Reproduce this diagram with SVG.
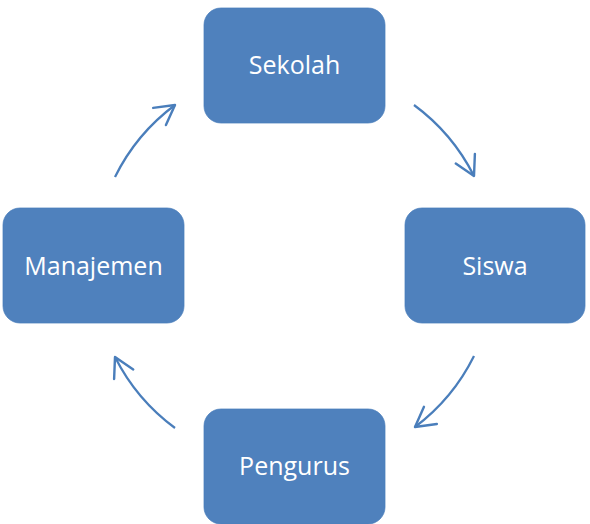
<svg xmlns="http://www.w3.org/2000/svg" width="590" height="524" viewBox="0 0 590 524">
<style>
.box{fill:#4F81BD;stroke:#4A7EBB;stroke-width:0.75}
.lbl{fill:#FFFFFF;font-family:"Open Sans","Noto Sans","Liberation Sans",sans-serif;font-size:25px;text-anchor:middle}
.arc{fill:none;stroke:#4A7EBB;stroke-width:2.25;marker-end:url(#arr)}
</style>
<defs>
<marker id="arr" markerUnits="userSpaceOnUse" markerWidth="30" markerHeight="30" viewBox="-22 -14 26 28" refX="0" refY="0" orient="auto" overflow="visible">
<path d="M -18 -10 L 0 0 L -18 10" fill="none" stroke="#4A7EBB" stroke-width="2.25" stroke-linecap="round" stroke-linejoin="round"/>
</marker>
</defs>
<rect width="590" height="524" fill="#FFFFFF"/>
<g id="connectors">
<path class="arc" d="M 414 105 A 200 200 0 0 1 474 176"/>
<path class="arc" d="M 474 356 A 200 200 0 0 1 415 427"/>
<path class="arc" d="M 175 428 A 200 200 0 0 1 115 357"/>
<path class="arc" d="M 115 177 A 200 200 0 0 1 175 105"/>
</g>
<g id="sekolah">
<rect class="box" x="204" y="8" width="181" height="115" rx="17"/>
<text class="lbl" x="294.5" y="74">Sekolah</text>
</g>
<g id="siswa">
<rect class="box" x="405" y="208" width="180" height="115" rx="17"/>
<text class="lbl" x="495" y="275">Siswa</text>
</g>
<g id="pengurus">
<rect class="box" x="204" y="409" width="181" height="115" rx="17"/>
<text class="lbl" x="294.5" y="475">Pengurus</text>
</g>
<g id="manajemen">
<rect class="box" x="3" y="208" width="181" height="115" rx="17"/>
<text class="lbl" x="93.5" y="275">Manajemen</text>
</g>
</svg>
